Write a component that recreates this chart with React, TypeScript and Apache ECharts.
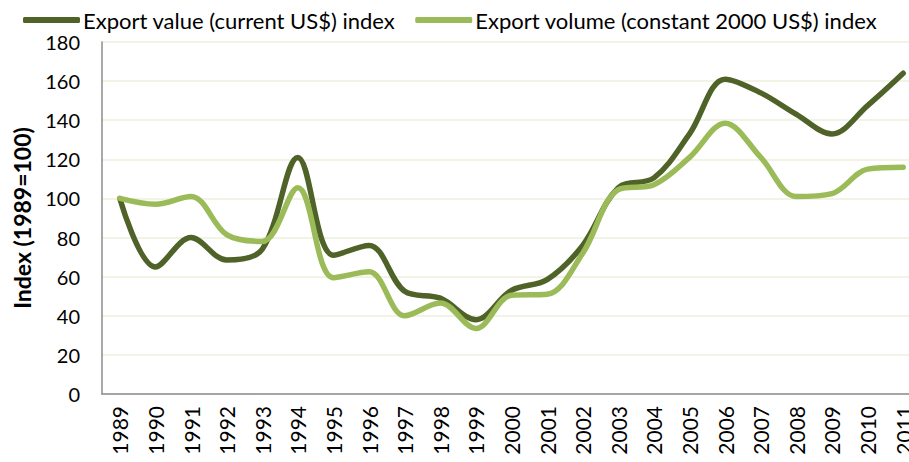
import React, { useEffect, useRef } from "react";
import * as echarts from "echarts";

const years = ["1989","1990","1991","1992","1993","1994","1995","1996","1997","1998","1999","2000","2001","2002","2003","2004","2005","2006","2007","2008","2009","2010","2011"];
const exportValue = [100, 65, 80, 68.5, 74, 121, 71, 76, 52.5, 49, 38, 53, 58.5, 76, 105.5, 110.5, 133, 161, 154, 143, 133, 147.5, 164];
const exportVolume = [100, 97, 101, 81.5, 78, 105.5, 59.5, 62.5, 40, 46.5, 33.5, 50.5, 51, 72, 104.5, 107, 121, 138.5, 121, 101, 102.5, 115, 116];
const yTicks = { min: 0, max: 180, interval: 20 };
const seriesNames = ["Export value (current US$) index", "Export volume (constant 2000 US$) index"];
const yTitle = "Index (1989=100)";

const FONT = "Lato, 'Open Sans', sans-serif";

export default function App() {
  const ref = useRef<HTMLDivElement>(null);
  useEffect(() => {
    if (!ref.current) return;
    const chart = echarts.init(ref.current, undefined, { renderer: "svg" });
    chart.setOption({
      animation: false,
      backgroundColor: "#ffffff",
      textStyle: { fontFamily: FONT },
      legend: {
        left: 18,
        top: 4,
        itemGap: 20,
        itemWidth: 57,
        itemHeight: 6,
        icon: "roundRect",
        textStyle: { fontSize: 22, color: "#000", fontFamily: FONT, padding: [0, 0, 0, -2] },
        data: seriesNames,
      },
      grid: { left: 102, top: 42, width: 819, height: 352, outerBoundsMode: "none", containLabel: false },
      xAxis: {
        type: "category",
        data: years,
        boundaryGap: true,
        axisLine: { lineStyle: { color: "#8c8c8c", width: 1.5 } },
        axisTick: { show: false },
        axisLabel: { rotate: 90, fontSize: 21, color: "#000", margin: 12, interval: 0, fontFamily: FONT },
      },
      yAxis: {
        type: "value",
        min: yTicks.min,
        max: yTicks.max,
        interval: yTicks.interval,
        axisLine: { show: true, lineStyle: { color: "#8c8c8c", width: 1.5 } },
        axisTick: { show: false },
        axisLabel: { fontSize: 20, color: "#000", margin: 22, fontFamily: FONT },
        splitLine: { lineStyle: { color: "#ECEFDD", width: 1.5 } },
      },
      graphic: [
        {
          type: "text",
          x: 22,
          y: 218,
          rotation: Math.PI / 2,
          style: {
            text: yTitle,
            fontSize: 23,
            fontWeight: "bold",
            fontFamily: FONT,
            fill: "#000",
            align: "center",
            verticalAlign: "middle",
          },
        },
      ],
      series: [
        {
          name: seriesNames[0],
          type: "line",
          data: exportValue,
          smooth: 0.35,
          showSymbol: false,
          symbol: "none",
          lineStyle: { color: "#4F6228", width: 5.5, cap: "round", join: "round" },
          itemStyle: { color: "#4F6228" },
          z: 3,
        },
        {
          name: seriesNames[1],
          type: "line",
          data: exportVolume,
          smooth: 0.35,
          showSymbol: false,
          symbol: "none",
          lineStyle: { color: "#9BBB59", width: 5.5, cap: "round", join: "round" },
          itemStyle: { color: "#9BBB59" },
          z: 4,
        },
      ],
    });
    return () => chart.dispose();
  }, []);
  return <div ref={ref} style={{ position: "fixed", left: 0, top: 0, width: 909, height: 462 }} />;
}
